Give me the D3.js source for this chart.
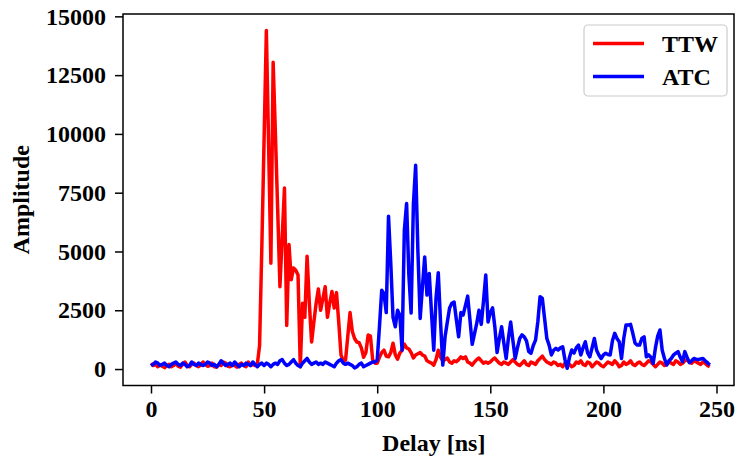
<!DOCTYPE html>
<html>
<head>
<meta charset="utf-8">
<script src="https://cdn.jsdelivr.net/npm/d3@7"></script>
<style>
  body { margin: 0; background: #fff; }
  text { font-family: "Liberation Serif", "Times New Roman", serif; font-weight: bold; }
</style>
</head>
<body>
<div id="chart"></div>
<script>
// delay axis, one sample per ns
const delay = d3.range(0, 248);

const ttw = [
  250, 150, 200, 100, 180, 120, 60, 150, 200, 100,
  150, 250, 120, 80, 200, 300, 150, 100, 200, 250,
  150, 100, 180, 300, 200, 120, 150, 250, 100, 80,
  200, 150, 300, 250, 120, 100, 180, 150, 80, 200,
  250, 150, 100, 300, 150, 200, 150, 200, 1000, 5200,
  9800, 14400, 9500, 4500, 13050, 10000, 6800, 3500, 5600, 7700,
  1850, 5300, 3800, 4300, 4200, 4000, 100, 2800, 2200, 4800,
  2800, 1150, 2000, 2800, 3400, 2500, 3000, 3500, 2200, 2800,
  3300, 2600, 3250, 2000, 600, 350, 380, 1400, 2400, 1600,
  1300, 1150, 1120, 900, 500, 700, 1450, 1400, 400, 250,
  250, 500, 700, 800, 550, 520, 700, 1100, 600, 420,
  680, 800, 1060, 900, 850, 700, 470, 600, 650, 700,
  600, 550, 350, 300, 250, 170, 400, 800, 500, 350,
  400, 470, 300, 250, 350, 310, 400, 520, 450, 520,
  300, 250, 170, 300, 400, 470, 350, 250, 300, 250,
  300, 400, 470, 350, 250, 200, 300, 250, 200, 300,
  400, 300, 200, 150, 250, 350, 200, 150, 300, 250,
  200, 350, 450, 550, 400, 300, 250, 200, 300, 250,
  150, 200, 100, 250, 300, 200, 100, 150, 300, 250,
  350, 200, 150, 300, 250, 100, 200, 300, 250, 150,
  100, 200, 300, 250, 200, 350, 250, 100, 150, 300,
  200, 250, 350, 200, 150, 250, 300, 200, 150, 250,
  350, 300, 200, 100, 200, 300, 250, 150, 200, 300,
  250, 200, 350, 300, 200, 250, 350, 400, 300, 250,
  350, 300, 250, 200, 300, 250, 150, 100
];

const atc = [
  150, 200, 300, 250, 150, 200, 250, 150, 100, 200,
  250, 300, 200, 150, 250, 200, 100, 150, 300, 200,
  150, 250, 200, 150, 200, 300, 250, 150, 200, 100,
  200, 350, 250, 150, 200, 250, 150, 300, 200, 100,
  200, 150, 250, 200, 150, 300, 200, 100, 200, 250,
  150, 250, 200, 100, 200, 250, 200, 350, 400, 250,
  150, 200, 300, 400, 250, 150, 100, 250, 350, 450,
  300, 200, 250, 300, 200, 250, 200, 300, 250, 200,
  150, 100, 250, 350, 400, 250, 200, 250, 200, 150,
  50, 100, 200, 250, 100, 150, 200, 250, 300, 300,
  380, 1800, 3350, 3200, 2400, 6500, 4500, 2200, 1800, 2500,
  2300, 800, 5900, 7040, 4000, 2380, 7000, 8670, 5000, 2150,
  3500, 4770, 3145, 4065, 2400, 800, 3000, 4100, 2000, 170,
  1370, 2000, 2600, 2800, 2850, 2100, 1370, 2400, 2300, 2700,
  3100, 2100, 1050, 1500, 1940, 2500, 1900, 2900, 4000, 2000,
  2400, 2600, 1800, 700, 1300, 1800, 1100, 450, 1300, 2000,
  1200, 450, 900, 1300, 1450, 1370, 1200, 740, 670, 1000,
  1230, 2000, 3075, 3000, 2150, 1300, 1020, 600, 800, 880,
  810, 900, 950, 400, 30, 500, 810, 680, 900, 1020,
  600, 900, 1160, 700, 520, 900, 1300, 800, 600, 450,
  600, 670, 620, 600, 1200, 1520, 1300, 1160, 450, 1300,
  1870, 1870, 1900, 1520, 1100, 1020, 1020, 1300, 1370, 520,
  600, 500, 240, 900, 1400, 1660, 800, 450, 170, 350,
  450, 600, 670, 740, 500, 310, 740, 500, 270, 350,
  450, 420, 410, 430, 450, 350, 270, 170
];

const xTicks = [0, 50, 100, 150, 200, 250];
const yTicks = [0, 2500, 5000, 7500, 10000, 12500, 15000];
const seriesNames = ["TTW", "ATC"];
const seriesColors = ["#ff0000", "#0000ff"];

const width = 735, height = 459;
const plotLeft = 123, plotRight = 734, plotTop = 14, plotBottom = 385.5;

const svg = d3.select("#chart").append("svg")
  .attr("width", width)
  .attr("height", height);

const x = d3.scaleLinear().domain([0, 250]).range([151, 716.5]);
const y = d3.scaleLinear().domain([-700, 15100]).range([plotBottom, plotTop]);

// plot lines, clipped to frame
svg.append("clipPath").attr("id", "clip")
  .append("rect").attr("x", plotLeft).attr("y", plotTop)
  .attr("width", plotRight - plotLeft).attr("height", plotBottom - plotTop);

const line = d3.line().x((d) => x(d[0])).y((d) => y(d[1]));

[ttw, atc].forEach((vals, i) => {
  svg.append("path")
    .datum(delay.map((t, j) => [t, vals[j]]))
    .attr("clip-path", "url(#clip)")
    .attr("d", line)
    .attr("fill", "none")
    .attr("stroke", seriesColors[i])
    .attr("stroke-width", 3.5)
    .attr("stroke-linejoin", "round");
});

// axes
const xAxis = svg.append("g")
  .attr("transform", `translate(0,${plotBottom})`)
  .call(d3.axisBottom(x).tickValues(xTicks).tickSize(8).tickPadding(6).tickFormat(d3.format("d")));
const yAxis = svg.append("g")
  .attr("transform", `translate(${plotLeft},0)`)
  .call(d3.axisLeft(y).tickValues(yTicks).tickSize(8).tickPadding(9).tickFormat(d3.format("d")));

[xAxis, yAxis].forEach((g) => {
  g.select(".domain").remove();
  g.selectAll(".tick line").attr("stroke", "#000").attr("stroke-width", 1.5);
  g.selectAll(".tick text")
    .attr("fill", "#000")
    .style("font-size", "24px")
    .style("font-family", "Liberation Serif, serif")
    .style("font-weight", "bold");
});

// frame
svg.append("rect")
  .attr("x", plotLeft).attr("y", plotTop)
  .attr("width", plotRight - plotLeft).attr("height", plotBottom - plotTop)
  .attr("fill", "none").attr("stroke", "#000").attr("stroke-width", 1.5);

// axis labels
svg.append("text")
  .attr("x", (151 + 716.5) / 2).attr("y", 451)
  .attr("text-anchor", "middle")
  .style("font-size", "24px")
  .text("Delay [ns]");

svg.append("text")
  .attr("transform", `translate(29,${(plotTop + plotBottom) / 2}) rotate(-90)`)
  .attr("text-anchor", "middle")
  .style("font-size", "24px")
  .text("Amplitude");

// legend
const legend = svg.append("g");
legend.append("rect")
  .attr("x", 584).attr("y", 25)
  .attr("width", 143).attr("height", 71)
  .attr("rx", 4)
  .attr("fill", "#fff").attr("fill-opacity", 0.8)
  .attr("stroke", "#cccccc").attr("stroke-width", 1.2);

seriesNames.forEach((name, i) => {
  const ly = 43.5 + i * 33;
  legend.append("line")
    .attr("x1", 593).attr("x2", 644)
    .attr("y1", ly).attr("y2", ly)
    .attr("stroke", seriesColors[i]).attr("stroke-width", 3.5);
  legend.append("text")
    .attr("x", 662).attr("y", ly + 8)
    .style("font-size", "24px")
    .text(name);
});
</script>
</body>
</html>
